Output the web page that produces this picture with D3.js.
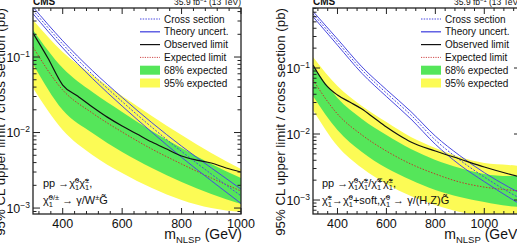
<!DOCTYPE html>
<html>
<head>
<meta charset="utf-8">
<script src="https://cdn.jsdelivr.net/npm/d3@7"></script>
<style>
body { margin: 0; background: #fff; }
svg { display: block; font-family: "Liberation Sans", Arial, Helvetica, sans-serif; }
</style>
</head>
<body>
<svg id="chart" width="517" height="251"></svg>
<script>
// ---- left panel: chargino-neutralino -> gamma/W + gravitino
const massL = [300, 400, 500, 600, 700, 800, 900, 1000];
const xsecL = [0.417, 0.148, 0.0589, 0.0257, 0.01175, 0.00562, 0.00282, 0.00145];
const xsecUpL = [0.46, 0.164, 0.066, 0.0292, 0.0135, 0.0066, 0.0034, 0.00178];
const xsecDnL = [0.375, 0.132, 0.052, 0.0224, 0.0101, 0.0047, 0.0023, 0.00115];
const expL = [0.1355, 0.0366, 0.0181, 0.01016, 0.00604, 0.00383, 0.0025, 0.00168];
const g68UpL = [0.228, 0.0715, 0.0343, 0.0187, 0.01047, 0.00624, 0.00383, 0.0025];
const g68DnL = [0.0808, 0.0199, 0.00985, 0.00552, 0.00339, 0.00221, 0.00153, 0.00113];
const y95UpL = [0.309, 0.1164, 0.0578, 0.0304, 0.01656, 0.00927, 0.00535, 0.00329];
const y95DnL = [0.0388, 0.01079, 0.00504, 0.00291, 0.00184, 0.00128, 0.001, 0.000885];
const obsMassL = [300, 350, 400, 450, 500, 550, 600, 650, 700, 750, 800, 850, 900, 950, 1000];
const obsL = [0.208, 0.097, 0.0426, 0.0304, 0.0218, 0.016, 0.0122, 0.00955, 0.00748, 0.00604,
              0.00489, 0.00432, 0.00395, 0.00339, 0.003];

// ---- right panel: higgsino-like, neutralino -> gamma/(H,Z) + gravitino
const massR = [300, 400, 500, 600, 700, 800, 900, 1000, 1100, 1150];
const xsecR = [0.658, 0.248, 0.0933, 0.0418, 0.0194, 0.00811, 0.00404, 0.00223, 0.00132, 0.00104];
const xsecUpR = [0.72, 0.275, 0.104, 0.047, 0.0219, 0.0093, 0.0047, 0.0026, 0.00157, 0.00125];
const xsecDnR = [0.6, 0.222, 0.083, 0.037, 0.0169, 0.007, 0.0034, 0.0019, 0.0011, 0.00085];
const expR = [0.0658, 0.0201, 0.00966, 0.00552, 0.00351, 0.00248, 0.00187, 0.00157, 0.00142, 0.00137];
const g68UpR = [0.107, 0.0351, 0.01687, 0.00966, 0.00593, 0.00404, 0.00305, 0.00248, 0.00231, 0.00231];
const g68DnR = [0.0377, 0.01151, 0.00533, 0.00305, 0.00201, 0.00142, 0.00111, 0.000933, 0.000811, 0.000783];
const y95UpR = [0.147, 0.0533, 0.0266, 0.0152, 0.00901, 0.00614, 0.00449, 0.00364, 0.00339, 0.00327];
const y95DnR = [0.0231, 0.00658, 0.00305, 0.00175, 0.00115, 0.000839, 0.000658, 0.000573, 0.000515, 0.000498];
const obsMassR = [300, 350, 400, 450, 500, 550, 600, 650, 700, 800, 900, 1000, 1100, 1150];
const obsR = [0.111, 0.0572, 0.039, 0.0305, 0.0239, 0.01746, 0.01276, 0.00966, 0.00757, 0.00552,
              0.00418, 0.00316, 0.00248, 0.00223];

const xTicks = [400, 600, 800, 1000];
const yTicks = [1e-3, 1e-2, 1e-1];
const yTickLabels = ["\u22123", "\u22122", "\u22121"];
const legendLabels = ["Cross section", "Theory uncert.", "Observed limit", "Expected limit", "68% expected", "95% expected"];

const CHI = "\u03C7\u0303";
const annotL = [
  [["pp \u2192", "n"], [CHI, "n"], ["0", "sup"], ["1", "sub2"], [CHI, "n"], ["\u00B1", "sup"], ["1", "sub2"], [",", "n"]],
  [[CHI, "n"], ["0/\u00B1", "sup"], ["1", "sub2"], [" \u2192 \u03B3/W", "n"], ["\u00B1", "sup"], ["G\u0303", "n"]]
];
const annotR = [
  [["pp \u2192", "n"], [CHI, "n"], ["0", "sup"], ["1", "sub2"], [CHI, "n"], ["\u00B1", "sup"], ["1", "sub2"], ["/", "n"],
   [CHI, "n"], ["\u2213", "sup"], ["1", "sub2"], [CHI, "n"], ["\u00B1", "sup"], ["1", "sub2"], [",", "n"]],
  [[CHI, "n"], ["\u00B1", "sup"], ["1", "sub2"], ["\u2192", "n"], [CHI, "n"], ["0", "sup"], ["1", "sub2"], ["+soft, ", "n"],
   [CHI, "n"], ["0", "sup"], ["1", "sub2"], [" \u2192 \u03B3/(H,Z)", "n"], ["G\u0303", "n"]]
];

const svg = d3.select("#chart");
const blue = "#4848e0", green = "#55e65a", yellow = "#fcfb55";

// text with super/subscripts; "sub2" sits under the previous superscript, "sub" just follows
function rich(sel, x, y, parts, size, anchor) {
  const g = sel.append("g");
  const t = g.append("text").attr("fill", "#111");
  let cx = 0, supStart = 0;
  parts.forEach(([s, k]) => {
    const fs = k === "n" ? size : size * 0.68;
    const dy = k === "sup" ? -size * 0.4 : (k === "sub2" || k === "sub") ? size * 0.3 : 0;
    const sx = k === "sub2" ? supStart : cx;
    const ts = t.append("tspan").attr("x", sx).attr("y", dy).attr("font-size", fs).text(s);
    const w = ts.node().getComputedTextLength();
    if (k === "sup") supStart = cx;
    cx = k === "sub2" ? Math.max(cx, sx + w) : sx + w;
  });
  g.attr("transform", `translate(${anchor === "end" ? x - cx : x},${y})`);
  return g;
}

function drawPanel(p) {
  const x = d3.scaleLinear().domain(p.xDom).range([p.x0, p.x1]);
  const y = d3.scaleLog().domain(p.yDom).range([p.y1, p.y0]);
  const g = svg.append("g");

  g.append("clipPath").attr("id", "clip" + p.id)
    .append("rect").attr("x", p.x0).attr("y", p.y0).attr("width", p.x1 - p.x0).attr("height", p.y1 - p.y0);
  const plot = g.append("g").attr("clip-path", `url(#clip${p.id})`);

  const band = (up, dn) => d3.area().curve(d3.curveMonotoneX)
    .x((d, i) => x(p.mass[i])).y0((d, i) => y(dn[i])).y1((d, i) => y(up[i]));
  const line = (ms) => d3.line().curve(d3.curveMonotoneX).x((d, i) => x(ms[i])).y(d => y(d));

  plot.append("path").attr("d", band(p.y95Up, p.y95Dn)(p.mass)).attr("fill", yellow);
  plot.append("path").attr("d", band(p.g68Up, p.g68Dn)(p.mass)).attr("fill", green);
  plot.append("path").attr("d", line(p.mass)(p.exp)).attr("fill", "none")
    .attr("stroke", "#c0392b").attr("stroke-width", 1).attr("stroke-dasharray", "1.5,1.5");
  [p.xsecUp, p.xsecDn].forEach(arr => {
    plot.append("path").attr("d", line(p.mass)(arr)).attr("fill", "none")
      .attr("stroke", blue).attr("stroke-width", 1);
  });
  plot.append("path").attr("d", line(p.mass)(p.xsec)).attr("fill", "none")
    .attr("stroke", blue).attr("stroke-width", 1).attr("stroke-dasharray", "2,1.5");
  plot.append("path").attr("d", line(p.obsMass)(p.obs)).attr("fill", "none")
    .attr("stroke", "#111").attr("stroke-width", 1.2);

  // frame and ticks (ROOT style: inside, all four sides)
  const ax = g.append("g").attr("stroke", "#222").attr("stroke-width", 1);
  ax.append("rect").attr("x", p.x0).attr("y", p.y0).attr("width", p.x1 - p.x0).attr("height", p.y1 - p.y0)
    .attr("fill", "none").attr("stroke-width", 1.3);
  const xMinor = d3.range(320, p.xDom[1] + 1, 40).filter(v => !xTicks.includes(v));
  xTicks.concat(xMinor).forEach(v => {
    const L = xTicks.includes(v) ? 6 : 3;
    ax.append("line").attr("x1", x(v)).attr("x2", x(v)).attr("y1", p.y1).attr("y2", p.y1 - L);
    ax.append("line").attr("x1", x(v)).attr("x2", x(v)).attr("y1", p.y0).attr("y2", p.y0 + L);
  });
  const yMinor = [];
  [1e-4, 1e-3, 1e-2, 1e-1].forEach(dec => d3.range(2, 10).forEach(k => {
    const v = dec * k;
    if (v > p.yDom[0] && v < p.yDom[1]) yMinor.push(v);
  }));
  yTicks.concat(yMinor).forEach(v => {
    const L = yTicks.includes(v) ? 7 : 3.5;
    ax.append("line").attr("x1", p.x0).attr("x2", p.x0 + L).attr("y1", y(v)).attr("y2", y(v));
    ax.append("line").attr("x1", p.x1).attr("x2", p.x1 - L).attr("y1", y(v)).attr("y2", y(v));
  });

  // tick labels
  xTicks.forEach(v => {
    g.append("text").attr("x", x(v)).attr("y", p.y1 + 13.5).attr("text-anchor", "middle")
      .attr("font-size", 12.5).attr("fill", "#111").text(v);
  });
  yTicks.forEach((v, i) => {
    rich(g, p.x0 - 3, y(v) + 4.5, [["10", "n"], [yTickLabels[i], "sup"]], 12.5, "end");
  });

  // axis titles
  rich(g, p.x1 + 1, p.y1 + 25, [["m", "n"], ["NLSP", "sub"], [" (GeV)", "n"]], 14, "end");
  g.append("text").attr("transform", `translate(${p.x0 - 28},${p.y0}) rotate(-90)`)
    .attr("text-anchor", "end").attr("font-size", 13.3).attr("fill", "#111")
    .text("95% CL upper limit / cross section (pb)");

  // header
  g.append("text").attr("x", p.x0).attr("y", 5).attr("font-size", 10).attr("font-weight", "bold")
    .attr("fill", "#111").text("CMS");
  rich(g, p.x1, 5, [["35.9 fb", "n"], ["\u22121", "sup"], [" (13 TeV)", "n"]], 8.5, "end");

  // legend
  const lg = g.append("g");
  legendLabels.forEach((lab, i) => {
    const cy = 19 + i * 12.8;
    const sx = p.lx, ex = p.lx + 20;
    if (i === 0) lg.append("line").attr("x1", sx).attr("x2", ex).attr("y1", cy).attr("y2", cy)
      .attr("stroke", blue).attr("stroke-dasharray", "1.5,1.2");
    if (i === 1) lg.append("line").attr("x1", sx).attr("x2", ex).attr("y1", cy).attr("y2", cy)
      .attr("stroke", blue).attr("stroke-width", 1.3);
    if (i === 2) lg.append("line").attr("x1", sx).attr("x2", ex).attr("y1", cy).attr("y2", cy)
      .attr("stroke", "#111").attr("stroke-width", 1.2);
    if (i === 3) lg.append("line").attr("x1", sx).attr("x2", ex).attr("y1", cy).attr("y2", cy)
      .attr("stroke", "#d04a4a").attr("stroke-dasharray", "1.2,1.2");
    if (i >= 4) lg.append("rect").attr("x", sx).attr("y", cy - 4.5).attr("width", 20).attr("height", 9)
      .attr("fill", i === 4 ? green : yellow);
    lg.append("text").attr("x", ex + 4).attr("y", cy + 3.6).attr("font-size", 10).attr("fill", "#111").text(lab);
  });

  // process annotation
  p.annot.forEach((parts, i) => rich(g, p.ax, p.ay + i * 17, parts, 11, "start"));
}

drawPanel({
  id: "L", x0: 33, x1: 241, y0: 8, y1: 214, xDom: [300, 1000], yDom: [8.34e-4, 0.446],
  mass: massL, xsec: xsecL, xsecUp: xsecUpL, xsecDn: xsecDnL, exp: expL,
  g68Up: g68UpL, g68Dn: g68DnL, y95Up: y95UpL, y95Dn: y95DnL, obsMass: obsMassL, obs: obsL,
  lx: 140, annot: annotL, ax: 43, ay: 187
});
drawPanel({
  id: "R", x0: 313, x1: 521, y0: 8, y1: 214, xDom: [300, 1150], yDom: [6.14e-4, 0.811],
  mass: massR, xsec: xsecR, xsecUp: xsecUpR, xsecDn: xsecDnR, exp: expR,
  g68Up: g68UpR, g68Dn: g68DnR, y95Up: y95UpR, y95Dn: y95DnR, obsMass: obsMassR, obs: obsR,
  lx: 421, annot: annotR, ax: 322, ay: 187
});
</script>
</body>
</html>
